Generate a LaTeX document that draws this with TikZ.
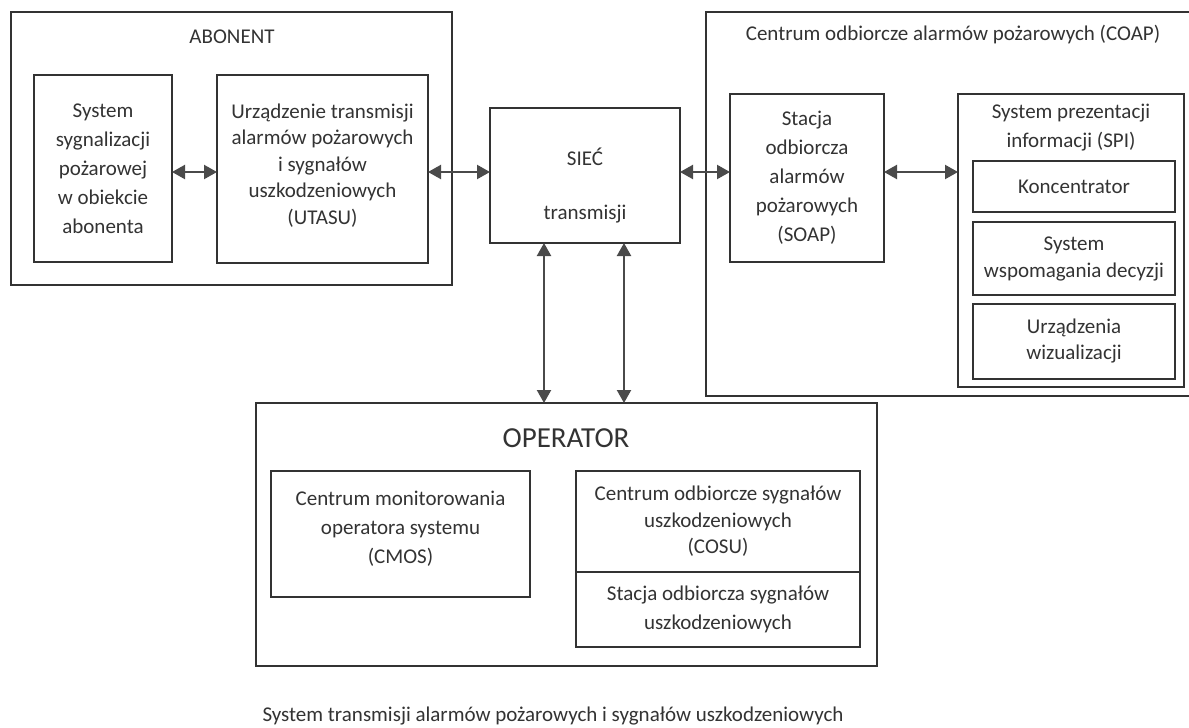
\documentclass[tikz,border=0pt]{standalone}
\usepackage{fontspec}
\setmainfont{Carlito}
\usepackage{tikz}
\usetikzlibrary{arrows.meta}
\usepackage{xcolor}
\definecolor{ink}{HTML}{333333}
\definecolor{wire}{HTML}{4a4a4a}
\tikzset{>=stealth}
\tikzset{
  group/.style={
    draw=ink, line width=1.9pt, inner sep=0pt, outer sep=0pt,
    minimum width=#1},
  group/.default=1pt}
\tikzset{
  box/.style={
    draw=ink, line width=1.8pt, inner sep=0pt, outer sep=0pt,
    align=center, text=ink, font=\fontsize{21}{29}\selectfont}}
\tikzset{
  title/.style={
    align=center, text=ink, inner sep=0pt, font=\fontsize{21}{29}\selectfont}}
\tikzset{
  both arrows/.style={
    draw=wire, line width=2.2pt,
    {Triangle[length=13pt,width=14pt]}-{Triangle[length=13pt,width=14pt]}}}

\begin{document}
\begin{tikzpicture}[x=1pt,y=-1pt]
    \useasboundingbox (0,0) rectangle (1189,728);
    \clip (0,0) rectangle (1189,728);
    \fill[white] (0,0) rectangle (1189,728);
    \begin{scope}
    \node[group, minimum width=441pt, minimum height=273pt](abonent) at (231.5,148.5) {};
    \node[title](abonentT) at (232,37) {ABONENT};
    \node[box, minimum width=138pt, minimum height=187pt](ssp) at (103,168.5)
        {System\\sygnalizacji\\pożarowej\\w obiekcie\\abonenta};
    \node[box, minimum width=211pt, minimum height=188pt, font=\fontsize{21}{26.5}\selectfont](utasu) at (322.5,169)
        {Urządzenie transmisji\\alarmów pożarowych\\i sygnałów\\uszkodzeniowych\\(UTASU)\\[-16pt]};
    \end{scope}
    \node[box, minimum width=190pt, minimum height=135pt](siec) at (585,175.5) {};
    \node[title](siecA) at (585,157) {SIEĆ};
    \node[title](siecB) at (585,214) {transmisji};
\begin{scope}
    \node[group, minimum width=490pt, minimum height=384pt](coap) at (951,204) {};
    \node[title](coapT) at (953,35) {Centrum odbiorcze alarmów pożarowych (COAP)};
    \node[box, minimum width=154pt, minimum height=168pt](soap) at (807,178)
        {Stacja\\odbiorcza\\alarmów\\pożarowych\\(SOAP)};
    \node[group, minimum width=226pt, minimum height=293pt](spi) at (1071,240.5) {};
    \node[title](spiT) at (1071,128) {System prezentacji\\informacji (SPI)};
    \node[box, minimum width=202pt, minimum height=51pt](konc) at (1074,186.5) {Koncentrator};
    \node[box, minimum width=202pt, minimum height=73pt, font=\fontsize{21}{27}\selectfont](swd) at (1074,258.5)
        {System\\wspomagania decyzji};
    \node[box, minimum width=202pt, minimum height=75pt, font=\fontsize{21}{26}\selectfont](uw) at (1074,341.5)
        {Urządzenia\\wizualizacji};
    \end{scope}
\begin{scope}
    \node[group, minimum width=621pt, minimum height=263pt](operator) at (566.5,534.5) {};
    \node[title, font=\fontsize{29}{32}\selectfont](operatorT) at (566,438) {OPERATOR};
    \node[box, minimum width=259pt, minimum height=126pt](cmos) at (400.5,534)
        {Centrum monitorowania\\operatora systemu\\(CMOS)\\[-15pt]};
    \node[box, minimum width=284pt, minimum height=101pt, font=\fontsize{21}{26.5}\selectfont](cosu) at (718,521.5)
        {Centrum odbiorcze sygnałów\\uszkodzeniowych\\(COSU)};
    \node[box, minimum width=284pt, minimum height=75pt, font=\fontsize{21}{29}\selectfont](sosu) at (718,609.5)
        {Stacja odbiorcza sygnałów\\uszkodzeniowych};
    \end{scope}
    \node[title](caption) at (553,716) {System transmisji alarmów pożarowych i sygnałów uszkodzeniowych};
    \coordinate (row) at (0,172);
    \draw[both arrows] (ssp.east |- row) -- (utasu.west |- row);
    \draw[both arrows] (utasu.east |- row) -- (siec.west |- row);
    \draw[both arrows] (siec.east |- row) -- (soap.west |- row);
    \draw[both arrows] (soap.east |- row) -- (spi.west |- row);
    \draw[both arrows] ([xshift=-41pt]siec.south) -- ([xshift=-41pt]siec.south |- operator.north);
    \draw[both arrows] ([xshift=39pt]siec.south) -- ([xshift=39pt]siec.south |- operator.north);
\end{tikzpicture}
\end{document}
